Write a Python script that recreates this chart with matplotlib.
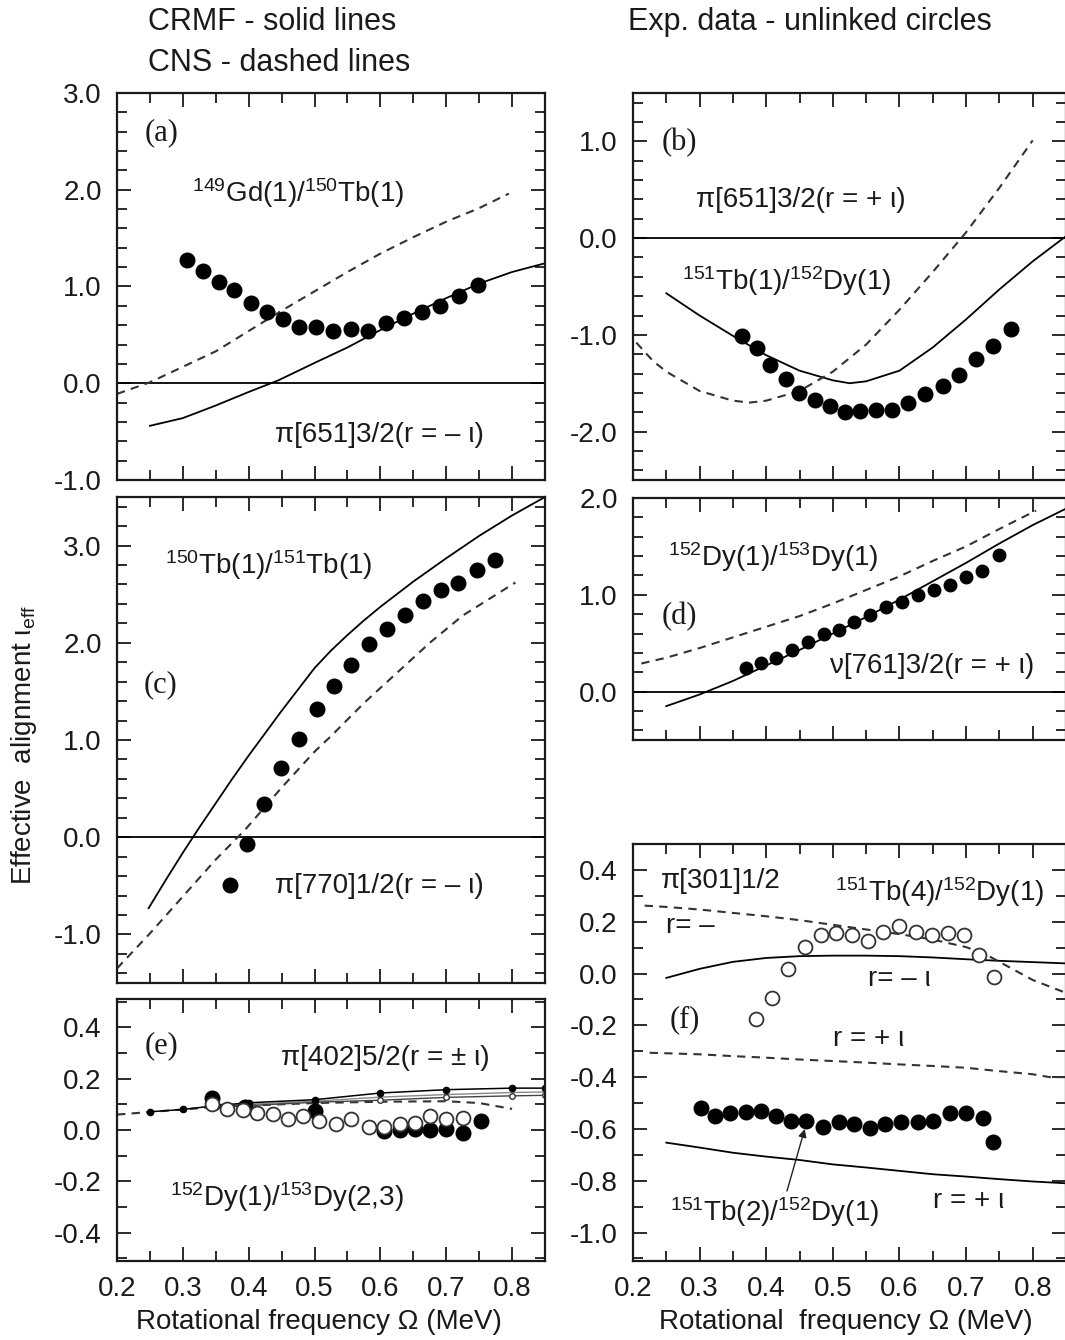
import matplotlib
matplotlib.use("Agg")
import matplotlib.pyplot as plt
from matplotlib.ticker import MultipleLocator, FormatStrFormatter

plt.rcParams["font.family"] = ["Liberation Sans", "DejaVu Sans"]
plt.rcParams["mathtext.fontset"] = "custom"
plt.rcParams["mathtext.rm"] = "Liberation Sans"
plt.rcParams["mathtext.it"] = "Liberation Sans:italic"
plt.rcParams["axes.unicode_minus"] = False

# ---- panel (a) 149Gd(1)/150Tb(1)
a_exp_x = [0.307, 0.331, 0.355, 0.378, 0.404, 0.428, 0.452, 0.477, 0.502, 0.528, 0.555, 0.581, 0.608, 0.636, 0.663, 0.691, 0.720, 0.749]
a_exp_y = [1.27, 1.16, 1.05, 0.96, 0.83, 0.74, 0.66, 0.58, 0.58, 0.54, 0.56, 0.54, 0.62, 0.67, 0.74, 0.80, 0.90, 1.02]
a_crmf_x = [0.25, 0.30, 0.35, 0.40, 0.445, 0.50, 0.55, 0.60, 0.65, 0.70, 0.75, 0.80, 0.85]
a_crmf_y = [-0.44, -0.36, -0.23, -0.09, 0.03, 0.21, 0.37, 0.55, 0.72, 0.88, 1.03, 1.15, 1.24]
a_cns_x = [0.20, 0.25, 0.30, 0.35, 0.40, 0.45, 0.50, 0.55, 0.60, 0.65, 0.70, 0.75, 0.795]
a_cns_y = [-0.11, 0.01, 0.17, 0.33, 0.54, 0.75, 0.95, 1.15, 1.34, 1.51, 1.67, 1.81, 1.96]

# ---- panel (b) 151Tb(1)/152Dy(1)
b_exp_x = [0.364, 0.386, 0.406, 0.429, 0.449, 0.4725, 0.495, 0.5175, 0.541, 0.565, 0.5885, 0.6135, 0.6385, 0.665, 0.69, 0.715, 0.741, 0.7675]
b_exp_y = [-1.01, -1.14, -1.31, -1.46, -1.60, -1.67, -1.74, -1.80, -1.79, -1.78, -1.78, -1.70, -1.61, -1.53, -1.41, -1.25, -1.11, -0.94]
b_crmf_x = [0.25, 0.30, 0.35, 0.40, 0.45, 0.50, 0.525, 0.55, 0.60, 0.65, 0.70, 0.75, 0.80, 0.85]
b_crmf_y = [-0.57, -0.80, -1.01, -1.21, -1.37, -1.47, -1.50, -1.48, -1.37, -1.13, -0.84, -0.53, -0.24, 0.02]
b_cns_x = [0.205, 0.23, 0.25, 0.30, 0.35, 0.375, 0.40, 0.45, 0.50, 0.55, 0.60, 0.65, 0.70, 0.75, 0.80]
b_cns_y = [-1.08, -1.27, -1.38, -1.58, -1.68, -1.70, -1.68, -1.58, -1.38, -1.10, -0.74, -0.35, 0.06, 0.52, 1.01]

# ---- panel (c) 150Tb(1)/151Tb(1)
c_exp_x = [0.372, 0.397, 0.423, 0.449, 0.476, 0.503, 0.530, 0.556, 0.583, 0.610, 0.637, 0.665, 0.692, 0.718, 0.746, 0.774]
c_exp_y = [-0.49, -0.07, 0.34, 0.71, 1.01, 1.32, 1.56, 1.77, 1.99, 2.14, 2.29, 2.43, 2.54, 2.62, 2.75, 2.85]
c_crmf_x = [0.248, 0.275, 0.30, 0.325, 0.35, 0.375, 0.40, 0.425, 0.45, 0.475, 0.50, 0.525, 0.55, 0.575, 0.60, 0.65, 0.70, 0.75, 0.80, 0.85]
c_crmf_y = [-0.73, -0.43, -0.16, 0.10, 0.35, 0.60, 0.84, 1.07, 1.30, 1.52, 1.74, 1.92, 2.08, 2.23, 2.37, 2.63, 2.87, 3.10, 3.31, 3.50]
c_cns_x = [0.20, 0.25, 0.30, 0.35, 0.395, 0.45, 0.50, 0.525, 0.575, 0.625, 0.675, 0.725, 0.805]
c_cns_y = [-1.35, -0.99, -0.61, -0.23, 0.08, 0.51, 0.88, 1.04, 1.38, 1.69, 2.00, 2.28, 2.62]

# ---- panel (d) 152Dy(1)/153Dy(1)
d_exp_x = [0.37, 0.3925, 0.415, 0.439, 0.4625, 0.486, 0.509, 0.5325, 0.556, 0.58, 0.604, 0.6275, 0.6525, 0.676, 0.70, 0.724, 0.749]
d_exp_y = [0.24, 0.30, 0.35, 0.43, 0.51, 0.59, 0.64, 0.72, 0.79, 0.87, 0.93, 1.00, 1.05, 1.10, 1.18, 1.25, 1.41]
d_crmf_x = [0.25, 0.30, 0.35, 0.40, 0.45, 0.50, 0.55, 0.60, 0.65, 0.70, 0.75, 0.80, 0.85]
d_crmf_y = [-0.15, -0.03, 0.11, 0.27, 0.43, 0.60, 0.77, 0.95, 1.14, 1.33, 1.53, 1.72, 1.89]
d_cns_x = [0.2125, 0.25, 0.30, 0.35, 0.40, 0.45, 0.50, 0.55, 0.60, 0.65, 0.70, 0.75, 0.805]
d_cns_y = [0.29, 0.35, 0.45, 0.56, 0.67, 0.78, 0.91, 1.05, 1.19, 1.35, 1.50, 1.68, 1.87]

# ---- panel (e) 152Dy(1)/153Dy(2,3)
e_open_x = [0.344, 0.367, 0.391, 0.412, 0.437, 0.46, 0.483, 0.507, 0.532, 0.556, 0.582, 0.605, 0.63, 0.653, 0.675, 0.70, 0.726]
e_open_y = [0.10, 0.083, 0.077, 0.067, 0.061, 0.042, 0.055, 0.035, 0.022, 0.042, 0.01, 0.01, 0.023, 0.029, 0.055, 0.042, 0.045]
e_fill_x = [0.345, 0.395, 0.50, 0.605, 0.63, 0.653, 0.675, 0.70, 0.726, 0.753]
e_fill_y = [0.125, 0.09, 0.075, -0.002, 0.0, 0.003, 0.0, 0.003, -0.012, 0.035]
e_calc1_x = [0.25, 0.30, 0.35, 0.40, 0.50, 0.60, 0.70, 0.80, 0.85]
e_calc1_y = [0.071, 0.08, 0.095, 0.106, 0.118, 0.144, 0.157, 0.163, 0.163]
e_calc2_x = [0.35, 0.40, 0.50, 0.60, 0.70, 0.80, 0.85]
e_calc2_y = [0.10, 0.095, 0.108, 0.116, 0.127, 0.133, 0.135]
e_calc3_x = [0.40, 0.50, 0.60, 0.70, 0.80, 0.85]
e_calc3_y = [0.10, 0.112, 0.128, 0.138, 0.146, 0.148]
e_cns_x = [0.20, 0.25, 0.30, 0.35, 0.40, 0.50, 0.60, 0.70, 0.75, 0.80]
e_cns_y = [0.06, 0.07, 0.08, 0.09, 0.095, 0.105, 0.11, 0.112, 0.105, 0.082]

# ---- panel (f) 151Tb(4)/152Dy(1) and 151Tb(2)/152Dy(1)
f_open_x = [0.385, 0.4085, 0.4325, 0.4575, 0.4815, 0.505, 0.5285, 0.5525, 0.575, 0.60, 0.625, 0.6485, 0.6725, 0.6965, 0.72, 0.7425]
f_open_y = [-0.174, -0.094, 0.019, 0.103, 0.147, 0.157, 0.147, 0.125, 0.161, 0.185, 0.159, 0.150, 0.157, 0.150, 0.073, -0.013]
f_fill_x = [0.3015, 0.3225, 0.346, 0.369, 0.3925, 0.415, 0.4375, 0.46, 0.485, 0.509, 0.5315, 0.556, 0.579, 0.6025, 0.6275, 0.651, 0.676, 0.70, 0.725, 0.74]
f_fill_y = [-0.518, -0.55, -0.537, -0.535, -0.531, -0.55, -0.569, -0.569, -0.591, -0.573, -0.582, -0.595, -0.582, -0.573, -0.573, -0.569, -0.537, -0.54, -0.557, -0.65]
f_crmf1_x = [0.25, 0.30, 0.35, 0.40, 0.45, 0.50, 0.55, 0.60, 0.65, 0.70, 0.75, 0.85]
f_crmf1_y = [-0.017, 0.018, 0.045, 0.06, 0.067, 0.069, 0.069, 0.067, 0.062, 0.055, 0.049, 0.039]
f_cns1_x = [0.2175, 0.25, 0.30, 0.35, 0.40, 0.45, 0.50, 0.55, 0.60, 0.65, 0.70, 0.73, 0.75, 0.80, 0.85]
f_cns1_y = [0.262, 0.257, 0.247, 0.234, 0.221, 0.206, 0.188, 0.170, 0.152, 0.131, 0.102, 0.073, 0.045, -0.025, -0.075]
f_cns2_x = [0.225, 0.25, 0.30, 0.35, 0.40, 0.45, 0.50, 0.55, 0.60, 0.65, 0.70, 0.75, 0.80, 0.825, 0.85]
f_cns2_y = [-0.306, -0.308, -0.312, -0.319, -0.325, -0.332, -0.338, -0.344, -0.351, -0.357, -0.364, -0.377, -0.389, -0.40, -0.40]
f_crmf2_x = [0.25, 0.30, 0.35, 0.40, 0.45, 0.50, 0.55, 0.60, 0.65, 0.70, 0.75, 0.80, 0.85]
f_crmf2_y = [-0.653, -0.672, -0.692, -0.707, -0.72, -0.737, -0.749, -0.762, -0.775, -0.784, -0.794, -0.803, -0.81]

W, H = 1065, 1340
fig = plt.figure(figsize=(W / 100, H / 100), dpi=100)


def rect(left, right, top, bottom):
    return [left / W, 1 - bottom / H, (right - left) / W, (bottom - top) / H]


def setup(ax, ylim, ymaj, ymin, show_x=False):
    ax.set_xlim(0.2, 0.85)
    ax.set_ylim(*ylim)
    ax.xaxis.set_major_locator(MultipleLocator(0.1))
    ax.xaxis.set_minor_locator(MultipleLocator(0.05))
    ax.yaxis.set_major_locator(MultipleLocator(ymaj))
    ax.yaxis.set_minor_locator(MultipleLocator(ymin))
    ax.xaxis.set_major_formatter(FormatStrFormatter("%.1f"))
    ax.yaxis.set_major_formatter(FormatStrFormatter("%.1f"))
    ax.tick_params(which="both", direction="in", top=True, right=True,
                   width=1.3, colors="#1a1a1a", labelsize=20)
    ax.tick_params(which="major", length=10)
    ax.tick_params(which="minor", length=7)
    ax.tick_params(axis="y", pad=11)
    ax.tick_params(axis="x", pad=11, labelbottom=show_x)
    for s in ax.spines.values():
        s.set_linewidth(1.6)
        s.set_color("#1a1a1a")


solid = dict(color="black", lw=1.3)
dashed = dict(color="#333333", lw=1.5, dashes=(4, 3))
filled = dict(ls="none", marker="o", ms=10.5, color="black")
openc = dict(ls="none", marker="o", ms=10, mfc="white", mec="#333333", mew=1.3)
lab = dict(fontsize=20, color="#1a1a1a")
tag = dict(fontsize=22, color="#1a1a1a", family="Liberation Serif", va="center")

# (a)
ax = fig.add_axes(rect(117, 545, 93, 480))
setup(ax, (-1.0, 3.0), 1.0, 0.2)
ax.axhline(0, **solid)
ax.plot(a_crmf_x, a_crmf_y, **solid)
ax.plot(a_cns_x, a_cns_y, **dashed)
ax.plot(a_exp_x, a_exp_y, **filled)
ax.text(0.2425, 2.59, "(a)", **tag)
ax.text(0.314, 1.87, r"$^{149}$Gd(1)/$^{150}$Tb(1)", **lab)
ax.text(0.44, -0.61, "π[651]3/2(r = – ι)", **lab)

# (b)
ax = fig.add_axes(rect(633, 1066, 93, 480))
setup(ax, (-2.5, 1.5), 1.0, 0.2)
ax.axhline(0, **solid)
ax.plot(b_crmf_x, b_crmf_y, **solid)
ax.plot(b_cns_x, b_cns_y, **dashed)
ax.plot(b_exp_x, b_exp_y, **filled)
ax.text(0.243, 0.99, "(b)", **tag)
ax.text(0.295, 0.32, "π[651]3/2(r = + ι)", **lab)
ax.text(0.273, -0.54, r"$^{151}$Tb(1)/$^{152}$Dy(1)", **lab)

# (c)
ax = fig.add_axes(rect(117, 545, 497, 983))
setup(ax, (-1.5, 3.5), 1.0, 0.2)
ax.axhline(0, **solid)
ax.plot(c_crmf_x, c_crmf_y, **solid)
ax.plot(c_cns_x, c_cns_y, **dashed)
ax.plot(c_exp_x, c_exp_y, **filled)
ax.text(0.2405, 1.57, "(c)", **tag)
ax.text(0.273, 2.71, r"$^{150}$Tb(1)/$^{151}$Tb(1)", **lab)
ax.text(0.44, -0.57, "π[770]1/2(r = – ι)", **lab)

# (d)
ax = fig.add_axes(rect(633, 1066, 498, 740))
setup(ax, (-0.5, 2.0), 1.0, 0.2)
ax.axhline(0, **solid)
ax.plot(d_crmf_x, d_crmf_y, **solid)
ax.plot(d_cns_x, d_cns_y, **dashed)
ax.plot(d_exp_x, d_exp_y, ls="none", marker="o", ms=9, color="black")
ax.text(0.243, 0.78, "(d)", **tag)
ax.text(0.253, 1.30, r"$^{152}$Dy(1)/$^{153}$Dy(1)", **lab)
ax.text(0.495, 0.19, "ν[761]3/2(r = + ι)", **lab)

# (e)
ax = fig.add_axes(rect(117, 545, 999, 1261))
setup(ax, (-0.51, 0.51), 0.2, 0.1, show_x=True)
ax.plot(e_cns_x, e_cns_y, **dashed)
ax.plot(e_calc3_x, e_calc3_y, color="#888888", lw=1.0)
ax.plot(e_calc2_x, e_calc2_y, color="#444444", lw=1.0, marker="o", ms=4,
        mfc="white", mec="#333333")
ax.plot(e_calc1_x, e_calc1_y, color="black", lw=1.1, marker="o", ms=4.5)
ax.plot(e_fill_x, e_fill_y, **filled)
ax.plot(e_open_x, e_open_y, **openc)
ax.text(0.242, 0.328, "(e)", **tag)
ax.text(0.449, 0.252, "π[402]5/2(r = ± ι)", **lab)
ax.text(0.28, -0.295, r"$^{152}$Dy(1)/$^{153}$Dy(2,3)", **lab)

# (f)
ax = fig.add_axes(rect(633, 1066, 844, 1261))
setup(ax, (-1.11, 0.5), 0.2, 0.1, show_x=True)
ax.plot(f_crmf1_x, f_crmf1_y, **solid)
ax.plot(f_cns1_x, f_cns1_y, **dashed)
ax.plot(f_cns2_x, f_cns2_y, **dashed)
ax.plot(f_crmf2_x, f_crmf2_y, **solid)
ax.plot(f_open_x, f_open_y, **openc)
ax.plot(f_fill_x, f_fill_y, **filled)
ax.text(0.2425, 0.33, "π[301]1/2", **lab)
ax.text(0.5025, 0.279, r"$^{151}$Tb(4)/$^{152}$Dy(1)", **lab)
ax.text(0.25, 0.157, "r= –", **lab)
ax.text(0.5525, -0.049, "r= – ι", **lab)
ax.text(0.255, -0.177, "(f)", **tag)
ax.text(0.50, -0.28, "r = + ι", **lab)
ax.text(0.65, -0.904, "r = + ι", **lab)
ax.text(0.255, -0.955, r"$^{151}$Tb(2)/$^{152}$Dy(1)", **lab)
ax.annotate("", xy=(0.459, -0.59), xytext=(0.43, -0.85),
            arrowprops=dict(arrowstyle="-|>", color="#222222", lw=1.0,
                            mutation_scale=12))

# figure texts
top = dict(fontsize=22, color="#1a1a1a", va="center", ha="left")
fig.text(148 / W, 1 - 22 / H, "CRMF - solid lines", **top)
fig.text(148 / W, 1 - 63 / H, "CNS - dashed lines", **top)
fig.text(628 / W, 1 - 22 / H, "Exp. data - unlinked circles", **top)

fig.text(24 / W, 1 - 745 / H, r"Effective  alignment ι$_{\rm eff}$", fontsize=20,
         color="#1a1a1a", rotation=90, ha="center", va="center")
fig.text(319 / W, 1 - 1322 / H, "Rotational frequency Ω (MeV)", fontsize=20,
         color="#1a1a1a", ha="center", va="center")
fig.text(846 / W, 1 - 1322 / H, "Rotational  frequency Ω (MeV)", fontsize=20,
         color="#1a1a1a", ha="center", va="center")

fig.savefig("out.png", dpi=100)
